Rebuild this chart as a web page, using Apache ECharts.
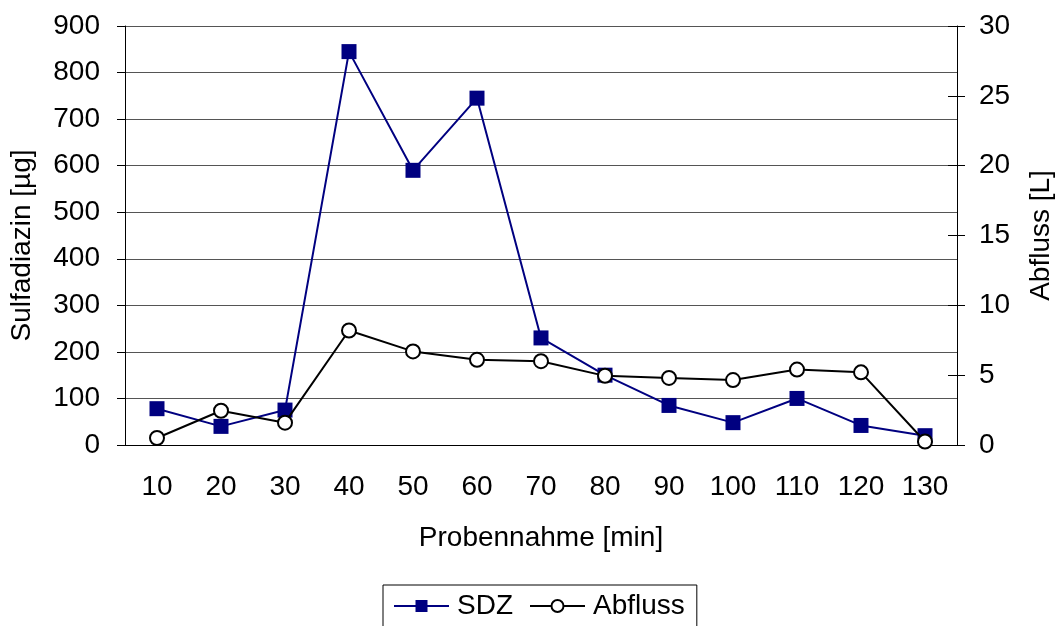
<!DOCTYPE html>
<html>
<head>
<meta charset="utf-8">
<script src="https://cdn.jsdelivr.net/npm/echarts@6/dist/echarts.min.js"></script>
<style>
  html, body { margin: 0; padding: 0; background: #fff; }
  #main { width: 1059px; height: 626px; }
</style>
</head>
<body>
<div id="main"></div>
<script>
var chart = echarts.init(document.getElementById("main"));

// Daten
var kategorien = ["10", "20", "30", "40", "50", "60", "70", "80", "90", "100", "110", "120", "130"];
var sdz = [78, 40, 75, 845, 590, 745, 230, 150, 85, 48, 100, 42, 20];
var abfluss = [0.5, 2.45, 1.6, 8.2, 6.7, 6.1, 6.0, 4.95, 4.8, 4.65, 5.4, 5.2, 0.25];

var schrift = "Liberation Sans, Arial, sans-serif";

var option = {
  animation: false,
  textStyle: { fontFamily: schrift },
  grid: { left: 125, right: 102, top: 26, bottom: 181, outerBoundsMode: "none", containLabel: false },
  legend: {
    top: 585,
    left: 383,
    data: ["SDZ", "Abfluss"],
    borderColor: "#000",
    borderWidth: 1,
    padding: [7, 12, 12, 10],
    itemGap: 16,
    itemWidth: 55,
    itemHeight: 15,
    textStyle: { fontSize: 28, color: "#000", fontFamily: schrift, padding: [0, 0, 0, 3] }
  },
  xAxis: {
    type: "category",
    data: kategorien,
    boundaryGap: true,
    name: "Probennahme [min]",
    nameLocation: "middle",
    nameGap: 79,
    nameTextStyle: { fontSize: 28, color: "#000" },
    axisLine: { lineStyle: { color: "#000", width: 1 } },
    axisTick: { alignWithLabel: false, length: 8, lineStyle: { color: "#000" } },
    axisLabel: { fontSize: 28, color: "#000", margin: 28 },
    splitLine: { show: false }
  },
  yAxis: [
    {
      type: "value",
      min: 0,
      max: 900,
      interval: 100,
      name: "Sulfadiazin [µg]",
      nameLocation: "middle",
      nameGap: 89,
      nameTextStyle: { fontSize: 28, color: "#000", padding: [0, 20, 0, 0] },
      axisLine: { show: true, lineStyle: { color: "#000" } },
      axisTick: { show: true, length: 8, lineStyle: { color: "#000" } },
      axisLabel: { fontSize: 28, color: "#000", margin: 25 },
      splitLine: { show: true, lineStyle: { color: "#555", width: 1 } }
    },
    {
      type: "value",
      min: 0,
      max: 30,
      interval: 5,
      name: "Abfluss [L]",
      nameLocation: "middle",
      nameGap: 70,
      nameRotate: 90,
      nameTextStyle: { fontSize: 28, color: "#000" },
      axisLine: { show: true, lineStyle: { color: "#000" } },
      axisTick: { show: true, length: 8, lineStyle: { color: "#000" } },
      axisLabel: { fontSize: 28, color: "#000", margin: 22 },
      splitLine: { show: false }
    },
    {
      // innere Hälfte der Kreuz-Ticks rechts
      type: "value",
      position: "right",
      min: 0,
      max: 30,
      interval: 5,
      axisLine: { show: false },
      axisTick: { show: true, inside: true, length: 9, lineStyle: { color: "#000" } },
      axisLabel: { show: false },
      splitLine: { show: false }
    }
  ],
  series: [
    {
      name: "SDZ",
      type: "line",
      yAxisIndex: 0,
      data: sdz,
      symbol: "rect",
      symbolSize: 15,
      itemStyle: { color: "#000080" },
      lineStyle: { color: "#000080", width: 2 },
      z: 2
    },
    {
      name: "Abfluss",
      type: "line",
      yAxisIndex: 1,
      data: abfluss,
      symbol: "circle",
      symbolSize: 14,
      showAllSymbol: true,
      itemStyle: { color: "#fff", borderColor: "#000", borderWidth: 2 },
      lineStyle: { color: "#000", width: 2 },
      z: 3
    }
  ]
};

chart.setOption(option);
</script>
</body>
</html>
